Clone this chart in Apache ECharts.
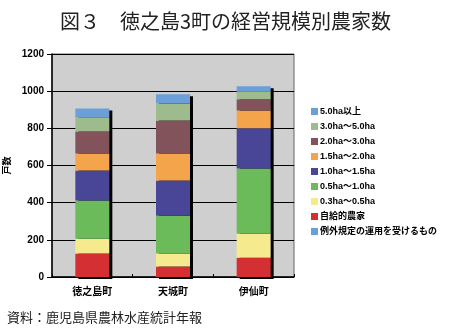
<!DOCTYPE html>
<html>
<head>
<meta charset="utf-8">
<script src="https://cdn.jsdelivr.net/npm/echarts@6/dist/echarts.min.js"></script>
<style>
  html, body { margin: 0; padding: 0; background: #fff; }
  #chart { width: 451px; height: 333px; }
</style>
</head>
<body>
<div id="chart"></div>
<script>
// 徳之島3町の経営規模別農家数（戸）
const towns = ['徳之島町', '天城町', '伊仙町'];

const jikyu      = [126, 56, 104];   // 自給的農家
const ha03_05    = [80, 70, 129];    // 0.3ha〜0.5ha
const ha05_10    = [205, 204, 351];  // 0.5ha〜1.0ha
const ha10_15    = [162, 189, 216];  // 1.0ha〜1.5ha
const ha15_20    = [92, 146, 96];    // 1.5ha〜2.0ha
const ha20_30    = [118, 177, 60];   // 2.0ha〜3.0ha
const ha30_50    = [76, 92, 43];     // 3.0ha〜5.0ha
const ha50over   = [48, 49, 27];     // 5.0ha以上
const exceptions = [0, 0, 0];        // 例外規定の運用を受けるもの

const yTicks = { min: 0, max: 1200, interval: 200 };

const layers = [
  { name: '自給的農家', data: jikyu, color: '#d43034' },
  { name: '0.3ha〜0.5ha', data: ha03_05, color: '#f5ea8d' },
  { name: '0.5ha〜1.0ha', data: ha05_10, color: '#6cbb5a' },
  { name: '1.0ha〜1.5ha', data: ha10_15, color: '#4a4697' },
  { name: '1.5ha〜2.0ha', data: ha15_20, color: '#f4a44b' },
  { name: '2.0ha〜3.0ha', data: ha20_30, color: '#82535a' },
  { name: '3.0ha〜5.0ha', data: ha30_50, color: '#9ebb8d' },
  { name: '5.0ha以上', data: ha50over, color: '#6a9fd8' },
  { name: '例外規定の運用を受けるもの', data: exceptions, color: '#6a9fd8' }
];

const totals = towns.map((_, i) => layers.reduce((s, l) => s + l.data[i], 0));

const BAR_W = 34;
const LABEL_FONT = "'Liberation Sans', 'Noto Sans CJK JP', sans-serif";

const chart = echarts.init(document.getElementById('chart'), null, { renderer: 'canvas' });

const barSeries = layers.map(l => ({
  name: l.name,
  type: 'bar',
  stack: 'total',
  barWidth: BAR_W,
  data: l.data,
  itemStyle: { color: l.color },
  z: 3
}));

// drop shadow behind each stacked column
const shadowSeries = {
  type: 'custom',
  name: 'shadow',
  data: towns.map((_, i) => [i, totals[i]]),
  encode: { x: 0, y: 1 },
  z: 2,
  silent: true,
  renderItem: function (params, api) {
    const top = api.coord([api.value(0), api.value(1)]);
    const base = api.coord([api.value(0), 0]);
    return {
      type: 'rect',
      shape: {
        x: top[0] - BAR_W / 2 + 3,
        y: top[1] + 2,
        width: BAR_W,
        height: base[1] - top[1]
      },
      style: { fill: '#000' }
    };
  }
};

chart.setOption({
  backgroundColor: '#fff',
  animation: false,
  title: {
    text: '図３　徳之島3町の経営規模別農家数',
    left: 'center',
    top: 6,
    textStyle: {
      fontFamily: "'Noto Sans CJK JP', sans-serif",
      fontSize: 20,
      fontWeight: 'normal',
      color: '#222'
    }
  },
  grid: {
    left: 52, right: 157, top: 54, bottom: 56,
    containLabel: false,
    outerBoundsMode: 'none',
    show: true,
    backgroundColor: '#cfcfcf',
    borderColor: '#666',
    borderWidth: 1
  },
  legend: {
    orient: 'vertical',
    left: 306,
    top: 102,
    itemWidth: 7,
    itemHeight: 7,
    itemGap: 6,
    icon: 'rect',
    data: [
      '5.0ha以上', '3.0ha〜5.0ha', '2.0ha〜3.0ha', '1.5ha〜2.0ha', '1.0ha〜1.5ha',
      '0.5ha〜1.0ha', '0.3ha〜0.5ha', '自給的農家', '例外規定の運用を受けるもの'
    ],
    textStyle: {
      fontFamily: LABEL_FONT,
      fontSize: 9,
      lineHeight: 9,
      fontWeight: 'bold',
      color: '#000',
      padding: [0, 0, 0, -3]
    }
  },
  xAxis: {
    type: 'category',
    data: towns,
    axisLine: { lineStyle: { color: '#000', width: 1.5 } },
    axisTick: { show: true, inside: true, length: 3, lineStyle: { color: '#000' } },
    axisLabel: {
      margin: 9,
      fontFamily: "'Noto Sans CJK JP', sans-serif",
      fontSize: 10,
      fontWeight: 'bold',
      color: '#000'
    }
  },
  yAxis: {
    type: 'value',
    min: yTicks.min,
    max: yTicks.max,
    interval: yTicks.interval,
    name: '戸数',
    nameLocation: 'middle',
    nameGap: 40,
    nameTextStyle: {
      fontFamily: "'Noto Sans CJK JP', sans-serif",
      fontSize: 9,
      fontWeight: 'bold',
      color: '#000'
    },
    axisLine: { show: true, lineStyle: { color: '#000', width: 1.5 } },
    axisTick: { show: true, length: 5, lineStyle: { color: '#000' } },
    splitLine: { show: true, lineStyle: { color: '#000', width: 1.2 } },
    axisLabel: {
      margin: 8,
      formatter: v => String(v),
      fontFamily: LABEL_FONT,
      fontSize: 10,
      fontWeight: 'bold',
      color: '#000'
    }
  },
  graphic: [{
    type: 'text',
    left: 7,
    top: 311,
    style: {
      text: '資料：鹿児島県農林水産統計年報',
      font: "13px 'Noto Sans CJK JP', sans-serif",
      fill: '#222'
    }
  }],
  series: [shadowSeries].concat(barSeries)
});
</script>
</body>
</html>
